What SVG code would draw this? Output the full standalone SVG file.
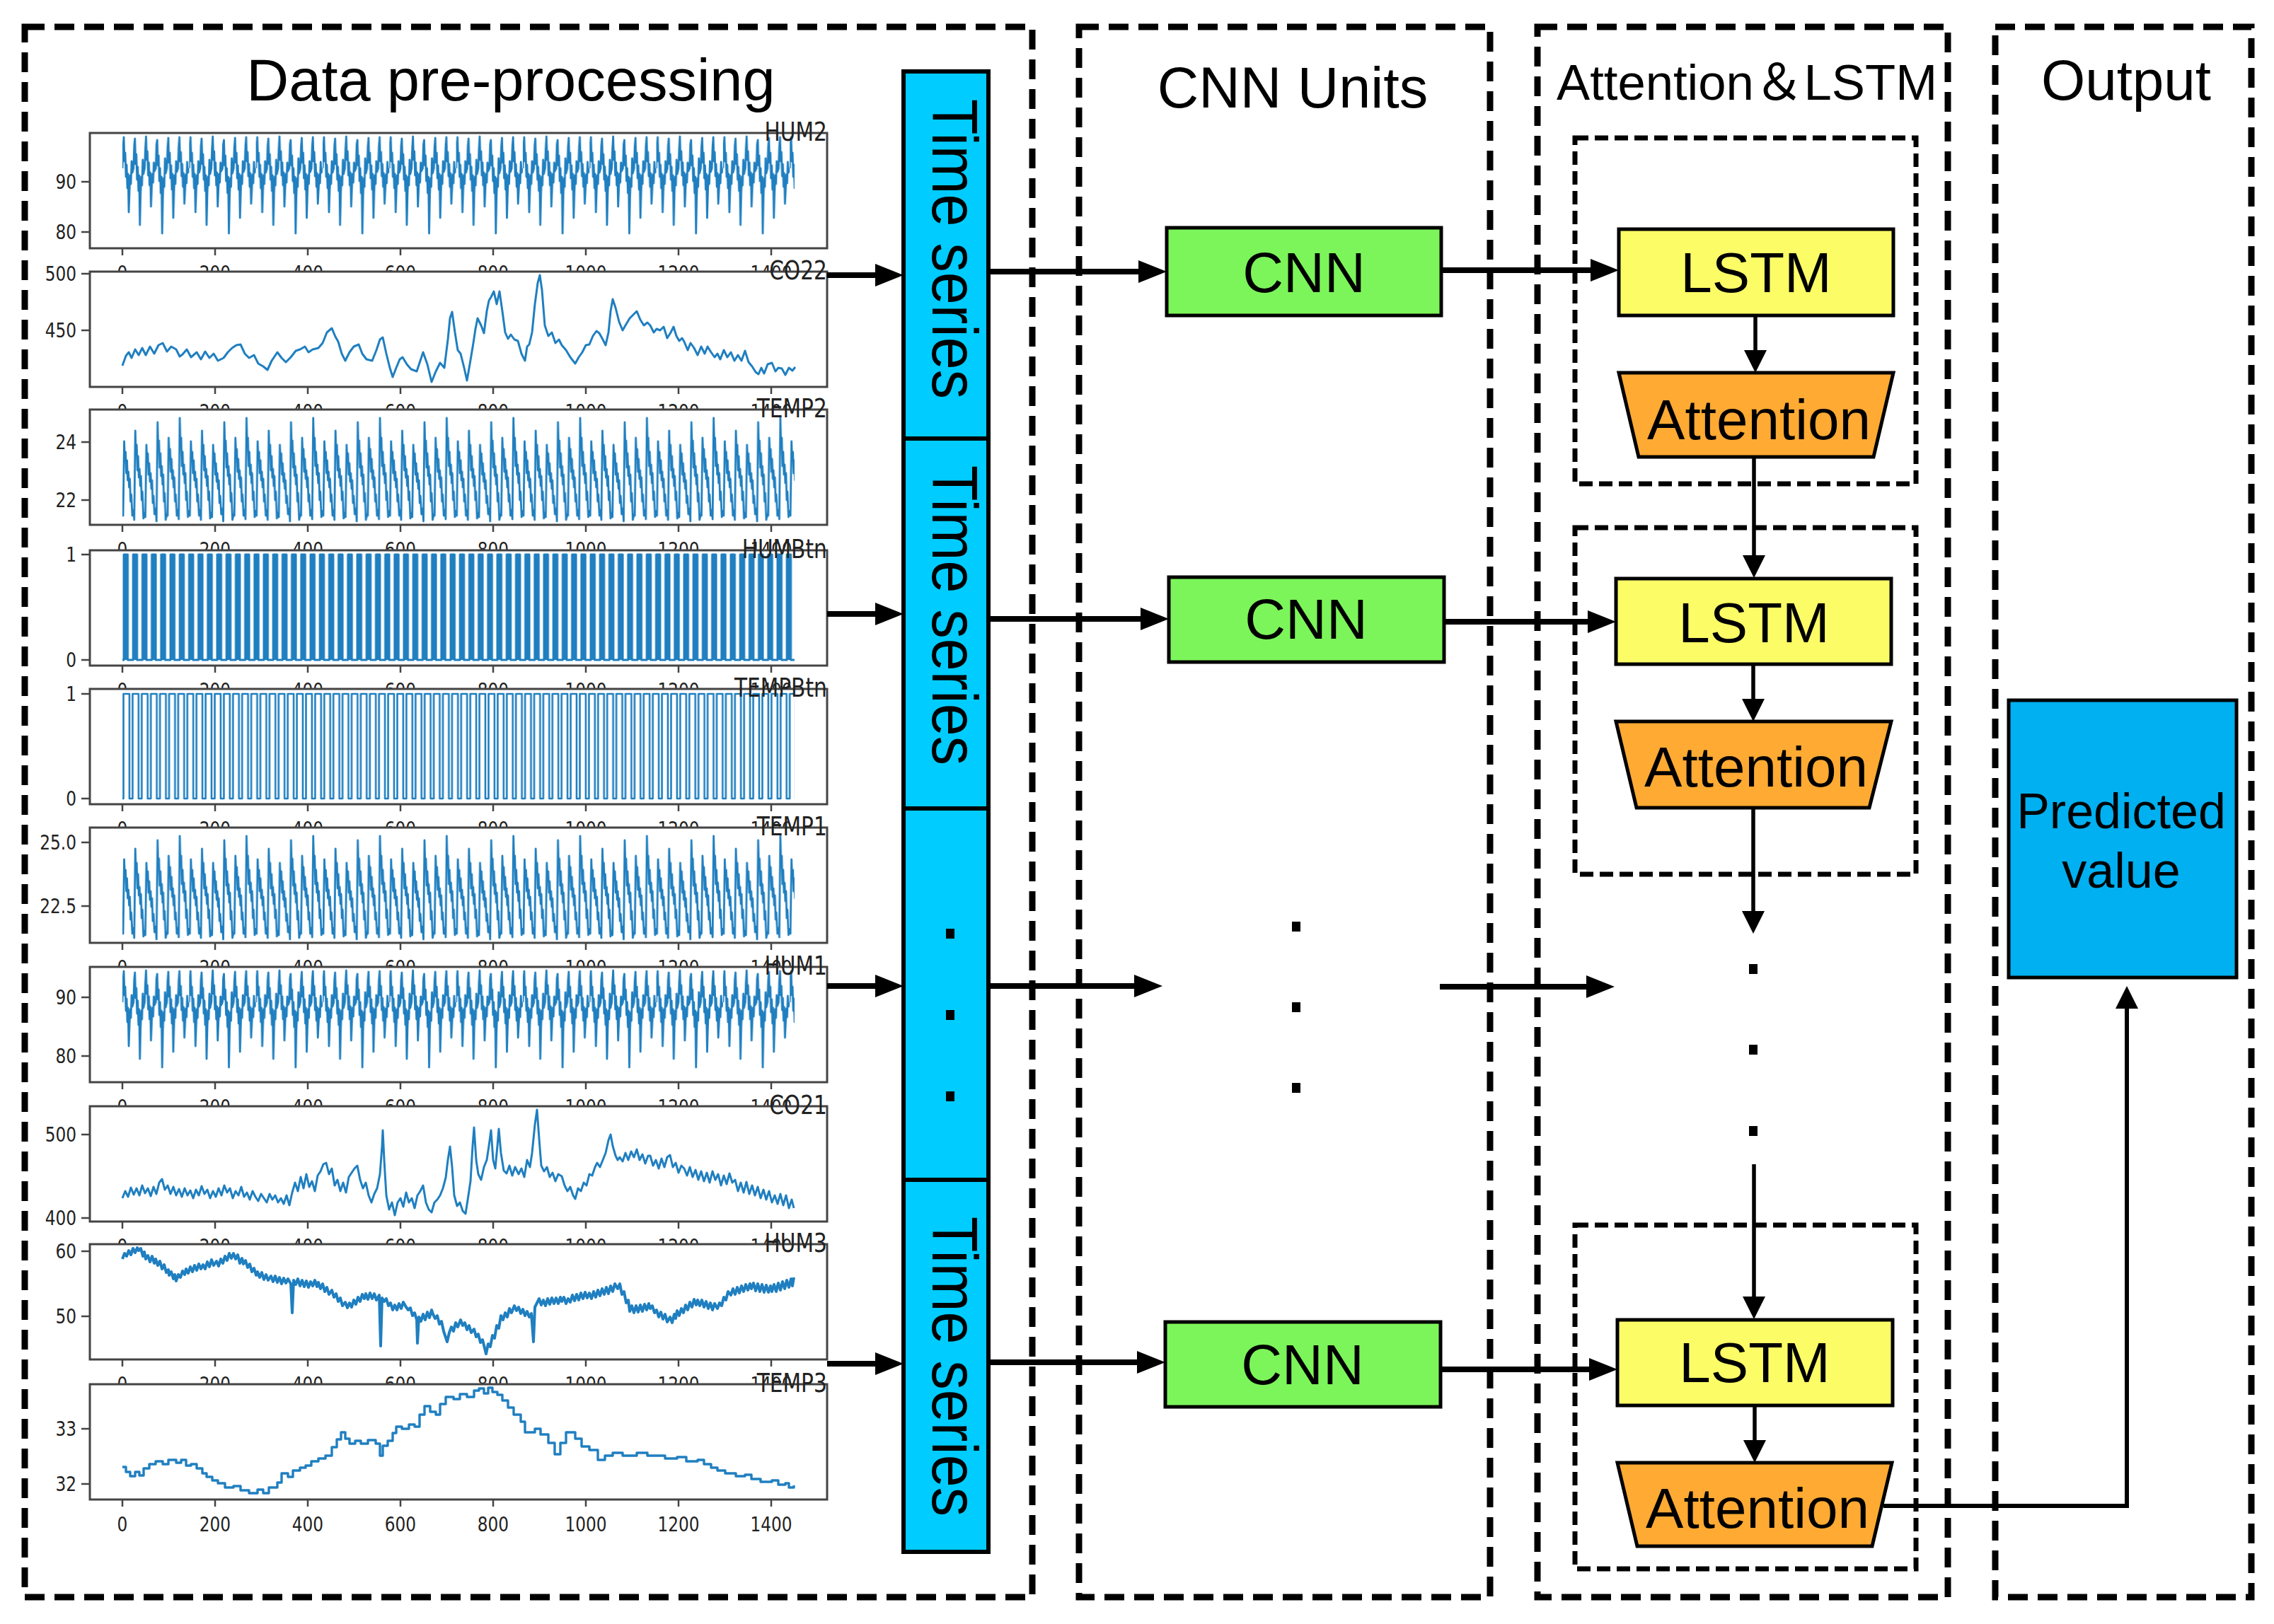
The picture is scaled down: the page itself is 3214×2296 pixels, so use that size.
<svg xmlns="http://www.w3.org/2000/svg" width="3214" height="2296" viewBox="0 0 3214 2296">
<style>
.dash{fill:none;stroke:#000;stroke-width:9;stroke-dasharray:28 14}
.idash{fill:none;stroke:#000;stroke-width:7;stroke-dasharray:19 9}
.ttl{font-family:"Liberation Sans",Arial,"Noto Sans CJK SC",sans-serif;fill:#000}
.lbl{font-family:"Liberation Sans",Arial,sans-serif;font-size:80px;fill:#000;text-anchor:middle}
.plbl{font-family:"Liberation Sans",Arial,sans-serif;font-size:70px;fill:#000;text-anchor:middle}
.tsl{font-family:"Liberation Sans",Arial,sans-serif;font-size:90px;fill:#000;text-anchor:middle}
.ts{fill:#00CCFF;stroke:#000;stroke-width:6}
.cnn{fill:#7CF55A;stroke:#000;stroke-width:5}
.lstm{fill:#FCFC66;stroke:#000;stroke-width:5}
.att{fill:#FFAA33;stroke:#000;stroke-width:5}
.pred{fill:#00B0F0;stroke:#000;stroke-width:5}
.ax{fill:#fff;stroke:#444;stroke-width:3}
.tk{fill:none;stroke:#444;stroke-width:2.5}
.ln{fill:none;stroke:#1f7fc0;stroke-width:2.8;stroke-linejoin:round}
.tx{font-family:"DejaVu Sans",sans-serif;font-size:29px;fill:#222}
.yl{text-anchor:end}
.xl{text-anchor:middle}
.pt{font-family:"DejaVu Sans",sans-serif;font-size:37px;fill:#222;text-anchor:end}
.big{fill:none;stroke:#000;stroke-width:8;marker-end:url(#ah)}
.thin{fill:none;stroke:#000;stroke-width:5.5;marker-end:url(#av)}
.dot{fill:#000}
</style>
<defs>
<marker id="ah" markerUnits="userSpaceOnUse" markerWidth="40" markerHeight="32" viewBox="0 0 40 32" refX="30" refY="16" orient="auto"><path d="M0,0L40,16L0,32z" fill="#000"/></marker>
<marker id="av" markerUnits="userSpaceOnUse" markerWidth="32" markerHeight="32" viewBox="0 0 32 32" refX="24" refY="16" orient="auto"><path d="M0,0L32,16L0,32z" fill="#000"/></marker>
<pattern id="pHum" patternUnits="userSpaceOnUse" x="173" y="0" width="94.32" height="163"><path class="ln" d="M0,50L1,20L2,6L3,40L4,28L5,62L6,45L7,78L8,58L9,112L10,82L11,60L12,72L13,40L14,56L15.72,50L16.7,18L17.7,8L18.7,44L19.7,30L20.7,66L21.7,48L22.7,82L23.7,60L24.7,130L25.7,86L26.7,62L27.7,74L28.7,38L29.7,58L31.44,50L32.4,22L33.4,5L34.4,38L35.4,26L36.4,60L37.4,42L38.4,74L39.4,56L40.4,104L41.4,78L42.4,58L43.4,70L44.4,42L45.4,54L47.16,50L48.2,16L49.2,10L50.2,46L51.2,32L52.2,68L53.2,50L54.2,85L55.2,62L56.2,142L57.2,90L58.2,64L59.2,76L60.2,36L61.2,57L62.88,50L63.9,20L64.9,7L65.9,42L66.9,28L67.9,64L68.9,46L69.9,80L70.9,58L71.9,120L72.9,84L73.9,60L74.9,72L75.9,40L76.9,55L78.6,50L79.6,19L80.6,6L81.6,40L82.6,27L83.6,61L84.6,44L85.6,76L86.6,57L87.6,100L88.6,80L89.6,59L90.6,71L91.6,41L92.6,56L94.32,50"/></pattern>
<pattern id="pTemp" patternUnits="userSpaceOnUse" x="173" y="0" width="94.32" height="163"><path class="ln" d="M0,142L1,150L2.5,45L3.5,70L4.5,60L5.5,90L6.5,72L7.5,100L8.5,88L9.5,110L10.5,98L11.5,130L12.5,120L14,150L15.72,142L16.7,156L18.2,30L19.2,62L20.2,50L21.2,86L22.2,66L23.2,96L24.2,84L25.2,108L26.2,94L27.2,128L28.2,116L29.7,154L31.44,146L32.4,152L33.9,50L34.9,74L35.9,62L36.9,92L37.9,76L38.9,102L39.9,90L40.9,112L41.9,100L42.9,132L43.9,122L45.4,148L47.16,140L48.2,158L49.7,18L50.7,56L51.7,44L52.7,82L53.7,62L54.7,94L55.7,80L56.7,106L57.7,92L58.7,130L59.7,118L61.2,156L62.88,148L63.9,150L65.4,40L66.4,66L67.4,56L68.4,88L69.4,70L70.4,98L71.4,86L72.4,110L73.4,96L74.4,130L75.4,120L76.9,150L78.6,142L79.6,155L81.1,12L82.1,52L83.1,40L84.1,80L85.1,60L86.1,92L87.1,78L88.1,104L89.1,90L90.1,128L91.1,116L92.6,152L94.32,142"/></pattern>
<pattern id="pHumB" patternUnits="userSpaceOnUse" x="173" y="0" width="13.2" height="163"><path class="ln" style="stroke-width:3;fill:#1f7fc0" d="M0,155H2V6H7.5V155H13.2"/></pattern>
<pattern id="pTempB" patternUnits="userSpaceOnUse" x="173" y="0" width="12.9" height="163"><path class="ln" style="stroke-width:2.6" d="M0,155H1.5V7H9.9V155H12.9"/></pattern>
<path id="xtk" class="tk" d="M173,163v10M304,163v10M435,163v10M566,163v10M697,163v10M828,163v10M959,163v10M1090,163v10"/>
<g id="xlab" class="tx xl" transform="scale(0.8,1)">
<text x="216.25" y="208">0</text><text x="380" y="208">200</text><text x="543.75" y="208">400</text><text x="707.5" y="208">600</text><text x="871.25" y="208">800</text><text x="1035" y="208">1000</text><text x="1198.75" y="208">1200</text><text x="1362.5" y="208">1400</text>
</g>
</defs>
<rect width="3214" height="2296" fill="#fff"/>

<g id="box-data"><rect class="dash" x="35" y="38" width="1424" height="2220"/><text class="ttl" x="722" y="142" font-size="83" text-anchor="middle">Data pre-processing</text></g>
<g id="box-cnn"><rect class="dash" x="1525" y="38" width="581" height="2220"/><text class="ttl" x="1827" y="152" font-size="81" text-anchor="middle">CNN Units</text></g>
<g id="box-att"><rect class="dash" x="2173" y="38" width="580" height="2220"/><text class="ttl" x="2200" y="141" font-size="70" textLength="538" lengthAdjust="spacingAndGlyphs">Attention＆LSTM</text></g>
<g id="box-out"><rect class="dash" x="2820" y="38" width="362" height="2220"/><text class="ttl" x="3005" y="141" font-size="80" text-anchor="middle">Output</text></g>
<g id="inner-1"><rect class="idash" x="2226" y="195" width="482" height="489"/></g>
<g id="inner-2"><rect class="idash" x="2226" y="746" width="482" height="490"/></g>
<g id="inner-3"><rect class="idash" x="2226" y="1732" width="482" height="486"/></g>

<g id="plots">
<g id="plot-hum2" transform="translate(0,188)">
<rect class="ax" x="127" y="0" width="1042" height="163"/>
<rect x="173" y="0" width="950" height="163" fill="url(#pHum)"/>
<use href="#xtk"/><path class="tk" d="M115,69h12M115,140h12"/>
<g class="tx yl" transform="scale(0.8,1)"><text x="135" y="79">90</text><text x="135" y="150">80</text></g>
<use href="#xlab"/>
<g transform="scale(0.8,1)"><text class="pt" x="1461" y="11">HUM2</text></g>
</g>
<g id="plot-co22" transform="translate(0,384)">
<rect class="ax" x="127" y="0" width="1042" height="163"/>
<path class="ln" style="stroke-width:3" transform="translate(0,-384)" d="M173,517L178,503 182,498 186,506 191,494 196,502 201,492 206,502 212,490 218,500 224,488 230,485 236,497 242,490 249,494 254,504 258,501 264,494 270,505 278,498 284,508 290,497 296,506 302,500 308,510 316,506 322,498 328,492 334,488 340,487 346,500 352,506 359,502 365,514 372,518 378,523 384,510 392,498 398,506 404,512 411,505 418,496 424,494 431,490 436,498 442,494 450,492 456,485 462,470 469,464 474,476 478,483 483,500 488,510 494,498 500,490 507,487 512,500 518,508 526,510 532,495 537,480 541,477 546,500 551,520 555,533 560,520 565,508 569,505 575,515 581,522 589,525 594,510 598,498 604,515 610,540 616,525 622,513 628,520 633,480 636,450 639,441 643,470 647,495 651,500 656,520 660,538 664,515 669,485 672,465 675,450 680,460 684,471 688,440 691,425 694,420 698,412 702,430 706,412 710,440 714,470 718,479 722,473 727,480 732,482 737,500 742,510 745,490 748,487 752,470 756,430 760,400 763,389 766,410 770,460 775,475 780,470 785,485 790,480 794,488 800,495 806,505 813,514 818,505 823,498 828,488 833,487 838,475 843,468 847,471 852,480 856,488 860,470 863,440 866,423 870,435 875,455 880,467 884,460 890,450 895,445 900,440 905,452 910,460 915,456 919,460 924,470 928,465 933,467 938,462 943,478 948,470 952,462 956,475 960,482 964,478 967,483 972,495 976,485 981,492 986,502 991,490 996,500 1000,490 1005,498 1010,505 1014,500 1018,508 1023,495 1028,505 1033,498 1038,510 1043,502 1048,510 1053,496 1058,512 1063,518 1068,526 1072,529 1076,520 1080,528 1085,515 1091,513 1096,525 1100,520 1105,521 1110,530 1115,520 1120,524 1124,519"/>
<use href="#xtk"/><path class="tk" d="M115,3h12M115,83h12"/>
<g class="tx yl" transform="scale(0.8,1)"><text x="135" y="13">500</text><text x="135" y="93">450</text></g>
<use href="#xlab"/>
<g transform="scale(0.8,1)"><text class="pt" x="1461" y="11">CO22</text></g>
</g>
<g id="plot-temp2" transform="translate(0,579)">
<rect class="ax" x="127" y="0" width="1042" height="163"/>
<rect x="173" y="0" width="950" height="163" fill="url(#pTemp)"/>
<use href="#xtk"/><path class="tk" d="M115,46h12M115,128h12"/>
<g class="tx yl" transform="scale(0.8,1)"><text x="135" y="56">24</text><text x="135" y="138">22</text></g>
<use href="#xlab"/>
<g transform="scale(0.8,1)"><text class="pt" x="1461" y="11">TEMP2</text></g>
</g>
<g id="plot-humbtn" transform="translate(0,778)">
<rect class="ax" x="127" y="0" width="1042" height="163"/>
<rect x="173" y="0" width="950" height="163" fill="url(#pHumB)"/>
<use href="#xtk"/><path class="tk" d="M115,6h12M115,155h12"/>
<g class="tx yl" transform="scale(0.8,1)"><text x="135" y="16">1</text><text x="135" y="165">0</text></g>
<use href="#xlab"/>
<g transform="scale(0.8,1)"><text class="pt" x="1461" y="11">HUMBtn</text></g>
</g>
<g id="plot-tempbtn" transform="translate(0,974)">
<rect class="ax" x="127" y="0" width="1042" height="163"/>
<rect x="173" y="0" width="950" height="163" fill="url(#pTempB)"/>
<use href="#xtk"/><path class="tk" d="M115,7h12M115,155h12"/>
<g class="tx yl" transform="scale(0.8,1)"><text x="135" y="17">1</text><text x="135" y="165">0</text></g>
<use href="#xlab"/>
<g transform="scale(0.8,1)"><text class="pt" x="1461" y="11">TEMPBtn</text></g>
</g>
<g id="plot-temp1" transform="translate(0,1170)">
<rect class="ax" x="127" y="0" width="1042" height="163"/>
<rect x="173" y="0" width="950" height="163" fill="url(#pTemp)"/>
<use href="#xtk"/><path class="tk" d="M115,21h12M115,111h12"/>
<g class="tx yl" transform="scale(0.8,1)"><text x="135" y="31">25.0</text><text x="135" y="121">22.5</text></g>
<use href="#xlab"/>
<g transform="scale(0.8,1)"><text class="pt" x="1461" y="11">TEMP1</text></g>
</g>
<g id="plot-hum1" transform="translate(0,1367)">
<rect class="ax" x="127" y="0" width="1042" height="163"/>
<rect x="173" y="0" width="950" height="163" fill="url(#pHum)"/>
<use href="#xtk"/><path class="tk" d="M115,43h12M115,126h12"/>
<g class="tx yl" transform="scale(0.8,1)"><text x="135" y="53">90</text><text x="135" y="136">80</text></g>
<use href="#xlab"/>
<g transform="scale(0.8,1)"><text class="pt" x="1461" y="11">HUM1</text></g>
</g>
<g id="plot-co21" transform="translate(0,1564)">
<rect class="ax" x="127" y="0" width="1042" height="163"/>
<path class="ln" style="stroke-width:3" transform="translate(0,-1564)" d="M173,1694L177,1684 181,1692 185,1679 189,1689 193,1680 197,1690 201,1676 205,1687 209,1680 213,1691 217,1678 221,1688 225,1672 229,1667 233,1682 237,1676 241,1688 245,1678 249,1690 253,1681 257,1692 261,1680 265,1690 269,1683 273,1694 277,1682 281,1690 285,1677 289,1688 293,1682 297,1694 301,1684 305,1692 309,1680 313,1690 317,1676 321,1686 325,1680 329,1694 333,1684 337,1690 341,1678 345,1692 349,1686 353,1696 357,1684 361,1692 365,1698 369,1688 373,1694 377,1700 381,1688 385,1696 389,1690 393,1700 397,1694 401,1702 405,1690 409,1704 413,1686 417,1672 421,1684 425,1664 429,1680 433,1660 437,1678 441,1670 445,1684 449,1662 453,1656 457,1646 461,1644 465,1660 469,1652 473,1676 477,1668 481,1684 485,1672 489,1686 493,1664 497,1658 501,1652 505,1648 509,1668 513,1680 517,1672 521,1690 525,1700 529,1688 533,1680 537,1660 540,1620 541,1598 543,1640 546,1690 550,1710 554,1700 558,1718 562,1700 566,1694 570,1706 574,1686 578,1700 582,1694 586,1708 590,1690 594,1684 598,1676 602,1700 606,1710 610,1714 614,1700 618,1696 622,1690 626,1680 630,1665 633,1640 636,1621 639,1650 642,1690 646,1705 650,1700 654,1712 658,1716 662,1690 665,1670 668,1620 670,1594 673,1640 676,1660 680,1668 684,1650 688,1640 691,1620 694,1598 697,1640 700,1652 703,1620 705,1596 708,1630 712,1655 716,1659 720,1648 724,1662 728,1650 733,1660 737,1652 741,1664 745,1640 749,1650 752,1630 756,1590 759,1569 762,1610 765,1648 769,1656 773,1650 777,1664 781,1658 785,1670 789,1660 794,1663 798,1676 802,1684 806,1678 810,1690 813,1695 817,1680 821,1684 825,1672 829,1676 833,1660 837,1662 841,1650 844,1644 848,1650 852,1640 856,1630 860,1612 863,1604 866,1620 870,1634 873,1640 876,1636 880,1642 884,1630 888,1640 892,1628 896,1636 900,1625 904,1640 908,1632 912,1645 916,1634 919,1634 923,1648 927,1640 931,1652 935,1638 939,1650 943,1636 947,1633 951,1650 955,1644 959,1658 963,1648 967,1652 971,1662 975,1650 979,1664 983,1654 987,1668 991,1656 995,1670 999,1658 1003,1672 1007,1656 1011,1668 1015,1660 1019,1676 1023,1662 1027,1674 1031,1659 1035,1672 1039,1668 1043,1684 1047,1672 1051,1686 1055,1671 1059,1688 1063,1676 1067,1690 1071,1678 1075,1694 1079,1682 1083,1696 1087,1684 1091,1700 1095,1690 1099,1702 1103,1688 1107,1704 1111,1690 1115,1708 1119,1696 1122,1708"/>
<use href="#xtk"/><path class="tk" d="M115,40h12M115,158h12"/>
<g class="tx yl" transform="scale(0.8,1)"><text x="135" y="50">500</text><text x="135" y="168">400</text></g>
<use href="#xlab"/>
<g transform="scale(0.8,1)"><text class="pt" x="1461" y="11">CO21</text></g>
</g>
<g id="plot-hum3" transform="translate(0,1759)">
<rect class="ax" x="127" y="0" width="1042" height="163"/>
<path class="ln" style="stroke-width:4" transform="translate(0,-1759)" d="M173,1780L176,1772 179,1776 182,1768 185,1774 188,1765 191,1771 194,1764 196,1768 199,1765 202,1776 204,1770 206,1780 209,1775 212,1784 215,1776 218,1786 220,1780 223,1789 226,1783 229,1794 232,1788 235,1799 238,1795 239,1803 242,1798 245,1808 247,1802 249,1811 252,1802 255,1806 258,1797 261,1802 263,1794 266,1800 269,1791 272,1798 275,1789 278,1796 281,1787 284,1794 287,1788 290,1794 293,1784 296,1791 299,1781 302,1789 306,1783 309,1790 312,1780 315,1786 318,1776 321,1782 324,1772 327,1779 330,1772 333,1780 336,1774 339,1786 342,1779 344,1787 347,1782 350,1792 353,1787 356,1798 359,1793 362,1803 364,1798 367,1806 370,1799 373,1809 376,1802 379,1810 383,1804 386,1812 389,1804 392,1813 395,1806 398,1815 401,1807 404,1814 407,1808 411,1815 413,1856 415,1810 418,1816 421,1808 424,1818 427,1810 430,1819 433,1811 436,1820 439,1812 442,1818 445,1810 448,1819 450,1813 453,1822 456,1815 459,1826 462,1820 465,1830 469,1824 472,1834 475,1829 478,1840 481,1835 484,1846 488,1841 491,1849 494,1842 497,1848 500,1838 503,1844 506,1834 509,1840 512,1830 515,1836 517,1829 520,1837 523,1828 526,1836 529,1829 532,1838 536,1831 538,1903 540,1835 543,1840 546,1836 549,1846 552,1842 555,1852 558,1845 561,1852 564,1843 567,1850 570,1841 574,1848 577,1852 580,1849 583,1860 586,1856 589,1866 590,1899 592,1862 595,1868 598,1858 601,1866 604,1855 607,1863 610,1852 612,1858 615,1864 618,1860 621,1872 624,1868 627,1882 632,1897 635,1884 638,1876 641,1882 644,1870 647,1876 651,1866 654,1874 657,1870 660,1880 663,1874 666,1884 670,1879 673,1890 676,1886 679,1898 682,1894 685,1906 687,1914 690,1900 693,1904 696,1888 699,1892 702,1874 705,1878 708,1860 711,1866 714,1856 717,1862 720,1850 723,1856 727,1846 730,1853 733,1848 736,1857 739,1851 742,1860 745,1854 748,1862 751,1857 754,1897 756,1848 759,1842 762,1836 765,1845 768,1838 771,1846 774,1836 777,1844 780,1835 783,1843 786,1835 789,1843 792,1834 794,1840 797,1834 800,1843 803,1836 806,1841 809,1831 812,1839 815,1830 818,1838 821,1828 824,1836 827,1827 830,1835 833,1828 836,1836 839,1826 842,1834 845,1824 848,1832 851,1822 854,1830 857,1820 860,1829 863,1818 866,1826 869,1815 873,1822 876,1815 879,1830 882,1826 885,1842 888,1838 890,1854 893,1846 896,1856 899,1846 902,1855 905,1845 908,1854 911,1844 914,1852 917,1843 919,1850 922,1846 925,1856 928,1852 931,1862 934,1855 937,1865 940,1858 943,1869 947,1862 950,1870 953,1858 955,1864 957,1853 960,1860 963,1850 966,1856 969,1845 972,1852 975,1841 978,1848 981,1837 984,1845 986,1838 989,1846 992,1838 995,1848 998,1840 1001,1850 1004,1842 1007,1852 1010,1843 1014,1850 1017,1842 1020,1846 1023,1834 1026,1838 1029,1826 1033,1831 1036,1822 1039,1830 1042,1820 1045,1828 1048,1818 1051,1826 1054,1816 1057,1824 1060,1815 1062,1822 1065,1814 1068,1825 1071,1815 1074,1826 1077,1816 1080,1827 1083,1817 1086,1827 1089,1818 1091,1826 1094,1816 1097,1826 1100,1814 1103,1824 1106,1812 1109,1822 1112,1810 1115,1820 1118,1808 1120,1818 1122,1806"/>
<use href="#xtk"/><path class="tk" d="M115,10h12M115,102h12"/>
<g class="tx yl" transform="scale(0.8,1)"><text x="135" y="20">60</text><text x="135" y="112">50</text></g>
<use href="#xlab"/>
<g transform="scale(0.8,1)"><text class="pt" x="1461" y="11">HUM3</text></g>
</g>
<g id="plot-temp3" transform="translate(0,1957)">
<rect class="ax" x="127" y="0" width="1042" height="163"/>
<path class="ln" style="stroke-width:3.4" transform="translate(0,-1957)" d="M173,2074H178V2081H184V2087H191V2081H197V2086H203V2076H211V2070H220V2066H230V2070H238V2064H249V2068H256V2064H263V2072H270V2070H278V2076H286V2083H292V2088H300V2093H308V2097H318V2103H330V2101H340V2107H352V2111H364V2106H372V2111H380V2103H392V2096H398V2083H407V2088H414V2079H424V2075H432V2072H440V2066H450V2062H460V2058H469V2046H476V2035H482V2025H488V2034H494V2041H502V2037H510V2041H520V2036H531V2041H537V2058H541V2044H548V2037H555V2026H560V2017H568V2020H578V2014H586V2017H593V2000H600V1988H608V1996H616V2000H622V1985H630V1975H641V1978H650V1971H660V1975H670V1966H677V1963H684V1970H690V1962H696V1968H703V1972H710V1980H718V1990H726V2000H736V2010H742V2025H756V2020H764V2028H775V2040H784V2056H792V2040H800V2025H813V2034H822V2045H833V2050H845V2064H855V2058H866V2054H880V2058H900V2054H915V2058H940V2062H957V2060H970V2066H986V2064H995V2070H1005V2075H1014V2079H1025V2083H1040V2087H1053V2085H1062V2091H1075V2095H1091V2093H1100V2099H1110V2097H1115V2103H1122V2100"/>
<use href="#xtk"/><path class="tk" d="M115,63h12M115,141h12"/>
<g class="tx yl" transform="scale(0.8,1)"><text x="135" y="73">33</text><text x="135" y="151">32</text></g>
<use href="#xlab"/>
<g transform="scale(0.8,1)"><text class="pt" x="1461" y="11">TEMP3</text></g>
</g>
</g>

<g id="ts-1"><rect class="ts" x="1277" y="101" width="120" height="519"/><text class="tsl" transform="translate(1318,352) rotate(90)" textLength="424" lengthAdjust="spacingAndGlyphs">Time series</text></g>
<g id="ts-2"><rect class="ts" x="1277" y="620" width="120" height="523"/><text class="tsl" transform="translate(1318,870) rotate(90)" textLength="424" lengthAdjust="spacingAndGlyphs">Time series</text></g>
<g id="ts-3"><rect class="ts" x="1277" y="1143" width="120" height="525"/><rect class="dot" x="1337" y="1313" width="12" height="14"/><rect class="dot" x="1337" y="1428" width="12" height="14"/><rect class="dot" x="1337" y="1543" width="12" height="14"/></g>
<g id="ts-4"><rect class="ts" x="1277" y="1668" width="120" height="526"/><text class="tsl" transform="translate(1318,1932) rotate(90)" textLength="424" lengthAdjust="spacingAndGlyphs">Time series</text></g>

<g id="cnn-1"><rect class="cnn" x="1649" y="322" width="388" height="124"/><text class="lbl" x="1843" y="413">CNN</text></g>
<g id="cnn-2"><rect class="cnn" x="1652" y="816" width="389" height="120"/><text class="lbl" x="1846" y="903">CNN</text></g>
<g id="cnn-dots"><rect class="dot" x="1826" y="1303" width="12" height="14"/><rect class="dot" x="1826" y="1417" width="12" height="14"/><rect class="dot" x="1826" y="1531" width="12" height="14"/></g>
<g id="cnn-3"><rect class="cnn" x="1647" y="1869" width="389" height="120"/><text class="lbl" x="1841" y="1957">CNN</text></g>

<g id="lstm-1"><rect class="lstm" x="2288" y="324" width="388" height="122"/><text class="lbl" x="2482" y="413">LSTM</text></g>
<g id="att-1"><polygon class="att" points="2288,527 2676,527 2648,646 2316,646"/><text class="lbl" x="2486" y="621">Attention</text></g>
<g id="lstm-2"><rect class="lstm" x="2284" y="818" width="389" height="121"/><text class="lbl" x="2479" y="908">LSTM</text></g>
<g id="att-2"><polygon class="att" points="2284,1020 2673,1020 2642,1142 2313,1142"/><text class="lbl" x="2482" y="1112">Attention</text></g>
<g id="lstm-dots"><rect class="dot" x="2472" y="1363" width="12" height="14"/><rect class="dot" x="2472" y="1477" width="12" height="14"/><rect class="dot" x="2472" y="1592" width="12" height="14"/></g>
<g id="lstm-3"><rect class="lstm" x="2286" y="1866" width="389" height="121"/><text class="lbl" x="2480" y="1954">LSTM</text></g>
<g id="att-3"><polygon class="att" points="2286,2068 2674,2068 2646,2186 2314,2186"/><text class="lbl" x="2484" y="2160">Attention</text></g>

<g id="pred"><rect class="pred" x="2839" y="990" width="322" height="392"/><text class="plbl" x="2998" y="1171">Predicted</text><text class="plbl" x="2998" y="1255">value</text></g>

<g id="connectors">
<path class="big" d="M1169,389H1267"/>
<path class="big" d="M1169,868H1267"/>
<path class="big" d="M1169,1394H1267"/>
<path class="big" d="M1169,1928H1267"/>
<path class="big" d="M1397,384H1639"/>
<path class="big" d="M1397,875H1642"/>
<path class="big" d="M1397,1394H1633"/>
<path class="big" d="M1397,1926H1637"/>
<path class="big" d="M2037,382H2278"/>
<path class="big" d="M2041,879H2274"/>
<path class="big" d="M2035,1395H2272"/>
<path class="big" d="M2036,1936H2276"/>
<path class="thin" d="M2481,446V519"/>
<path class="thin" d="M2479,647V809"/>
<path class="thin" d="M2478,940V1012"/>
<path class="thin" d="M2478,1142V1312"/>
<path class="thin" d="M2479,1646V1857"/>
<path class="thin" d="M2480,1988V2060"/>
<path class="thin" style="stroke-width:6" d="M2662,2129H3006V1402"/>
</g>
</svg>
